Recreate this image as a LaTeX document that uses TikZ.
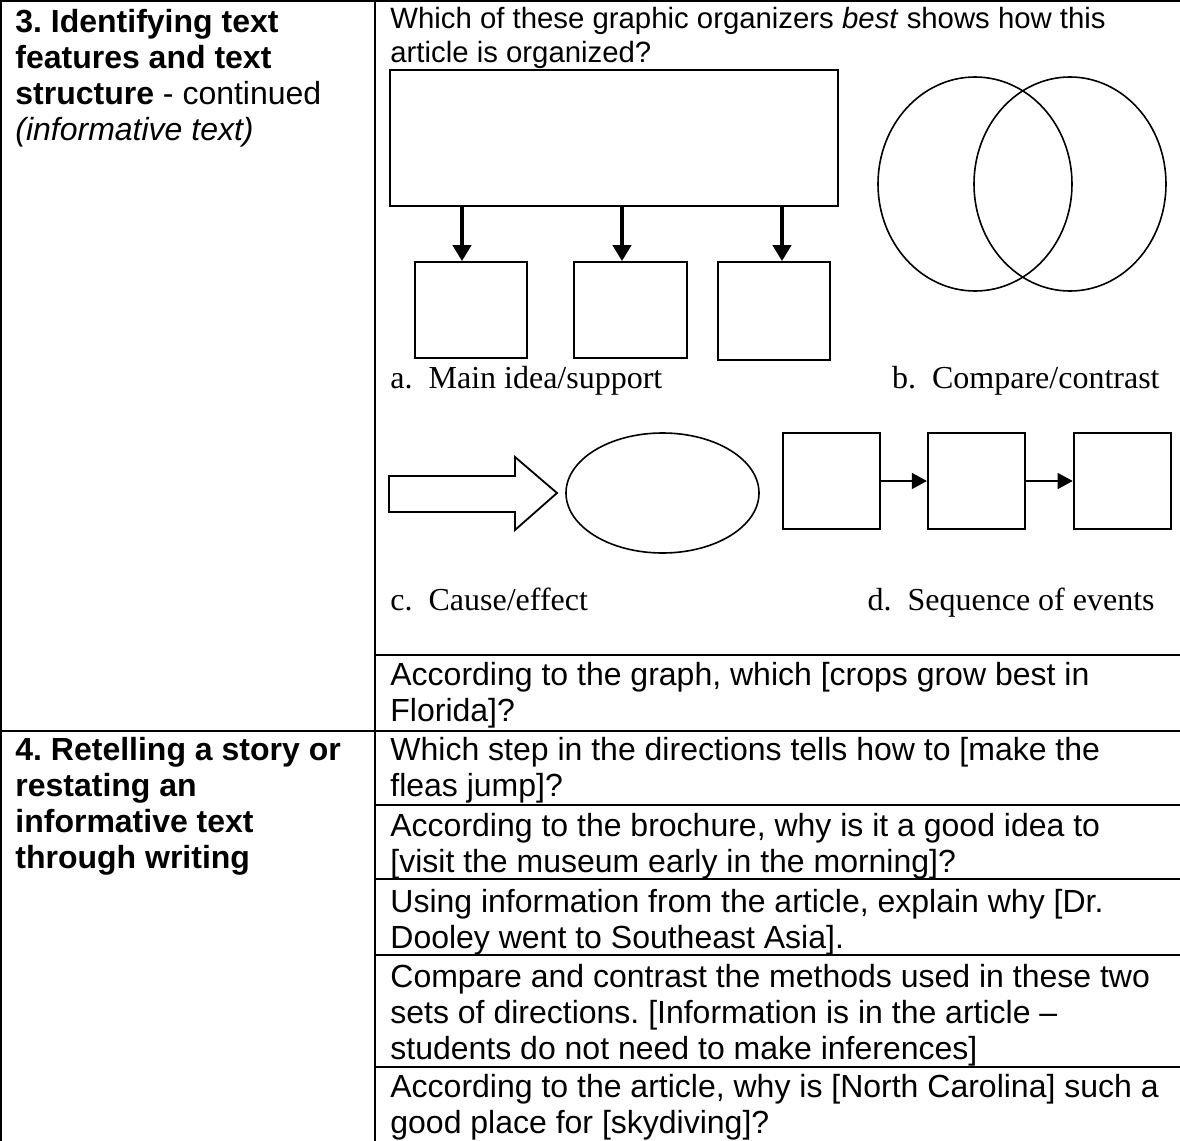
\documentclass[tikz,border=0pt]{standalone}
\usepackage{fontspec}
\setmainfont{Liberation Serif}
\setsansfont{Liberation Sans}
\usepackage{tikz}
\usetikzlibrary{positioning,shapes.geometric,arrows.meta}
\frenchspacing

\tikzset{
    cell/.style={anchor=north west, align=left, inner sep=0pt, font=\sffamily\fontsize{16}{18}\selectfont},
    choice/.style={inner sep=0pt, font=\rmfamily\fontsize{16}{18}\selectfont},
    box/.style={draw, rectangle, line width=0.9pt, inner sep=0pt},
    oval/.style={draw, ellipse, line width=0.8pt, inner sep=0pt},
    rule/.style={line width=1.2pt},
    bigarrow/.style={-{Triangle[length=8pt,width=9pt]}, line width=2pt},
    smallarrow/.style={-{Triangle[length=7.5pt,width=8pt]}, line width=0.6pt}
}

\begin{document}
\begin{tikzpicture}[x=0.5pt, y=-0.5pt]
    \useasboundingbox (0,0) rectangle (1180,1141);

    % table rules
    \draw[rule] (0,1) -- (1180,1);
    \draw[rule] (1,0) -- (1,1141);
    \draw[rule] (375,0) -- (375,1141);
    \draw[rule] (375,655) -- (1180,655);
    \draw[rule] (0,731) -- (1180,731);
    \foreach \y in {805,879,955,1067}
        \draw[rule] (375,\y) -- (1180,\y);

    % left column
    \node[cell] (skill3) at (15,9) {\textbf{3. Identifying text}\\\textbf{features and text}\\\textbf{structure} - continued\\\textit{(informative text)}};
    \node[cell] (skill4) at (15,737) {\textbf{4. Retelling a story or}\\\textbf{restating an}\\\textbf{informative text}\\\textbf{through writing}};

    % right column questions
    \node[cell, font=\sffamily\fontsize{14.67}{17}\selectfont] (q1) at (390,7) {Which of these graphic organizers \textit{best} shows how this\\article is organized?};
    \node[cell] (q2) at (390,662) {According to the graph, which [crops grow best in\\Florida]?};
    \node[cell] (q3) at (390,737) {Which step in the directions tells how to [make the\\fleas jump]?};
    \node[cell] (q4) at (390,813) {According to the brochure, why is it a good idea to\\{}[visit the museum early in the morning]?};
    \node[cell] (q5) at (390,889) {Using information from the article, explain why [Dr.\\Dooley went to Southeast Asia].};
    \node[cell] (q6) at (390,964) {Compare and contrast the methods used in these two\\sets of directions. [Information is in the article --\\students do not need to make inferences]};
    \node[cell] (q7) at (390,1074) {According to the article, why is [North Carolina] such a\\good place for [skydiving]?};

    % a. main idea/support
    \node[box, minimum width=224pt, minimum height=68pt] (idea) at (614,138) {};
    \node[box, minimum width=56pt, minimum height=48pt] (sup1) at (471,310) {};
    \node[box, minimum width=56.5pt, minimum height=48pt] (sup2) at (630.5,310) {};
    \node[box, minimum width=56pt, minimum height=49pt] (sup3) at (774,311) {};
    \foreach \s/\dx in {sup1/-4.5pt, sup2/-4.25pt, sup3/4pt}
        \draw[bigarrow] ([xshift=\dx]\s.north |- idea.south) -- ([xshift=\dx]\s.north);
    \node[choice, anchor=base west] (labela) at (390,388) {a.~~Main idea/support};

    % b. compare/contrast
    \node[oval, minimum width=97pt, minimum height=107pt] (setA) at (975,184) {};
    \node[oval, minimum width=96pt, minimum height=107pt] (setB) at (1070,184) {};
    \node[choice, anchor=base east] (labelb) at (1160,388) {b.~~Compare/contrast};

    % c. cause/effect
    \draw[line width=0.9pt] (389,476) -- (515,476) -- (515,457) -- (557,493)
        -- (515,530) -- (515,512) -- (389,512) -- cycle;
    \node[oval, minimum width=96.5pt, minimum height=60pt] (effect) at (662.5,493) {};
    \node[choice, anchor=base west] (labelc) at (390,610) {c.~~Cause/effect};

    % d. sequence of events
    \node[box, minimum width=48.5pt, minimum height=48pt] (ev1) at (831.5,481) {};
    \node[box, minimum width=48.5pt, minimum height=48pt, right=23pt of ev1] (ev2) {};
    \node[box, minimum width=48.5pt, minimum height=48pt, right=23.5pt of ev2] (ev3) {};
    \draw[smallarrow] (ev1) -- (ev2);
    \draw[smallarrow] (ev2) -- (ev3);
    \node[choice, anchor=base east] (labeld) at (1155,610) {d.~~Sequence of events};
\end{tikzpicture}
\end{document}
